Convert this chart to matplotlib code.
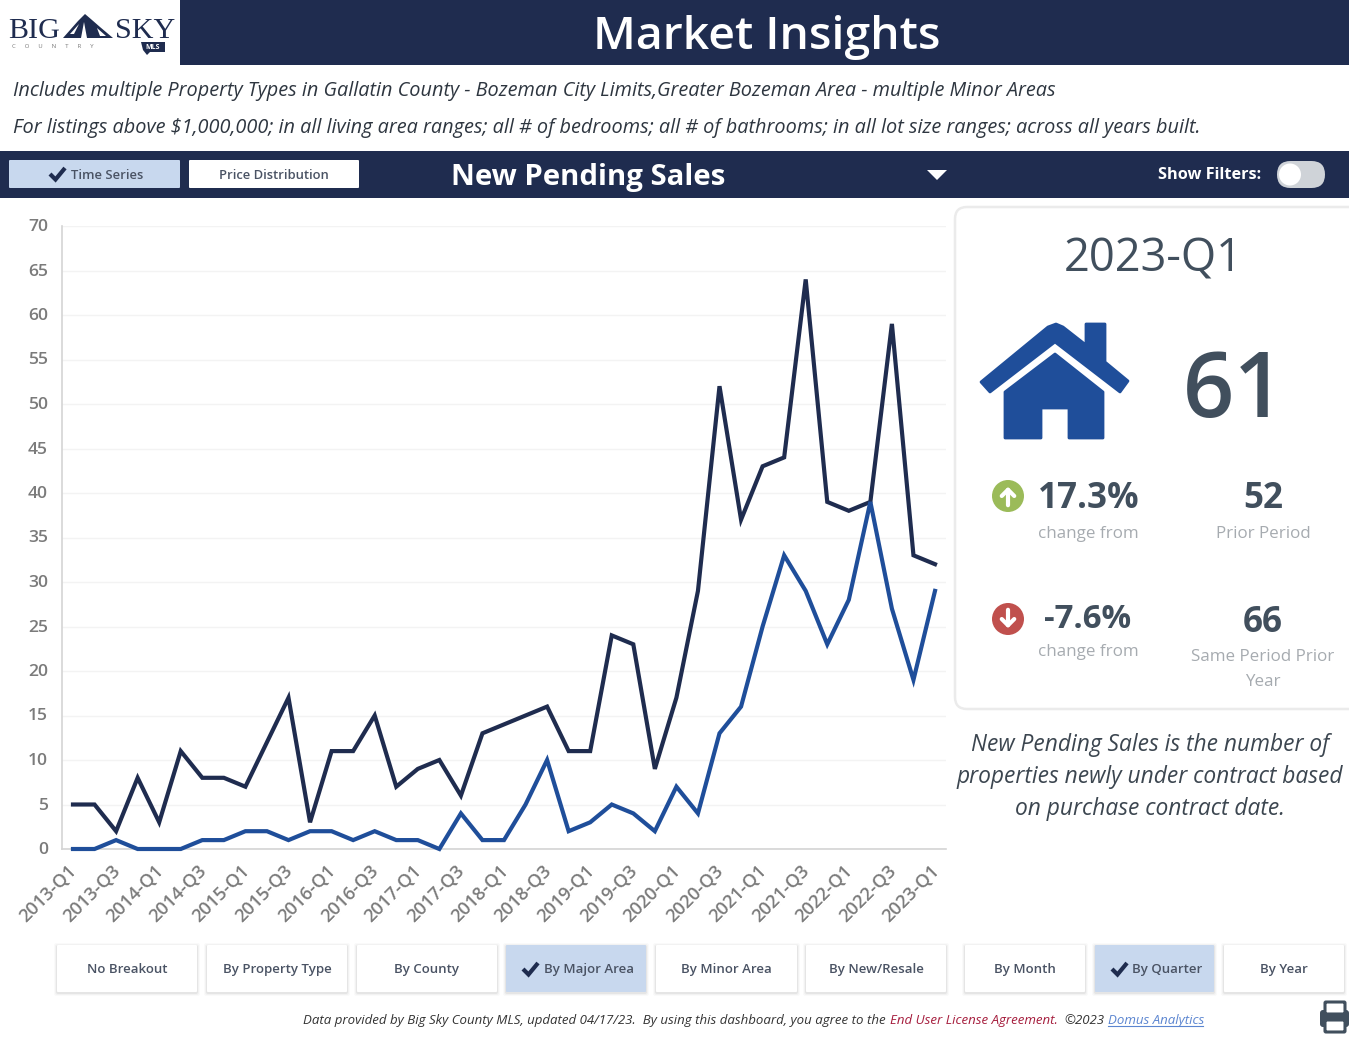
import matplotlib
matplotlib.use('Agg')
import matplotlib.pyplot as plt
from matplotlib.patches import FancyBboxPatch, Circle, Polygon, Rectangle
from matplotlib.transforms import ScaledTranslation

plt.rcParams['font.family'] = ['Open Sans', 'DejaVu Sans']

NAVY = '#1f2c4f'
BLUE = '#1f4e9a'
SLATE = '#414f5d'
GREY_TXT = '#a6abb0'
BTN_ON = '#c8d8ee'
BTN_TXT = '#4a5364'

quarters = []
for y in range(2013, 2024):
    for q in range(1, 5):
        quarters.append('%d-Q%d' % (y, q))
quarters = quarters[:41]

all_areas = [5, 5, 2, 8, 3, 11, 8, 8, 7, 12, 17, 3, 11, 11, 15, 7, 9, 10, 6, 13, 14,
             15, 16, 11, 11, 24, 23, 9, 17, 29, 52, 37, 43, 44, 64, 39, 38, 39, 59, 33, 32]
major_area = [0, 0, 1, 0, 0, 0, 1, 1, 2, 2, 1, 2, 2, 1, 2, 1, 1, 0, 4, 1, 1,
              5, 10, 2, 3, 5, 4, 2, 7, 4, 13, 16, 25, 33, 29, 23, 28, 39, 27, 19, 29]

breakout_buttons = [('No Breakout', 57, 197, False), ('By Property Type', 207, 347, False),
                    ('By County', 357, 497, False), ('By Major Area', 506, 646, True),
                    ('By Minor Area', 656, 797, False), ('By New/Resale', 806, 946, False),
                    ('By Month', 965, 1085, False), ('By Quarter', 1095, 1214, True),
                    ('By Year', 1224, 1344, False)]

W, H = 1349, 1040
fig = plt.figure(figsize=(W / 100, H / 100), dpi=100, facecolor='white')

# page furniture is laid out in pixels
page = fig.add_axes([0, 0, 1, 1])
page.set_xlim(0, W)
page.set_ylim(H, 0)
page.axis('off')


def px(size):
    return size * 0.72


def label(x, y, s, size, color=SLATE, ha='center', va='center', **kw):
    # open sans sits a bit high with va=center
    return page.text(x, y + size * 0.1, s, fontsize=px(size), color=color, ha=ha, va=va, **kw)


def rrect(x0, y0, x1, y1, r, fc, ec='none', lw=0, z=2, alpha=None):
    p = FancyBboxPatch((x0 + r, y0 + r), x1 - x0 - 2 * r, y1 - y0 - 2 * r,
                       boxstyle='round,pad=%f,rounding_size=%f' % (r, r),
                       fc=fc, ec=ec, lw=lw, zorder=z, alpha=alpha)
    page.add_patch(p)
    return p


def check(x, y, color=NAVY):
    # tick mark, x and y is the left end of the stroke
    page.plot([x, x + 5.5, x + 15], [y, y + 5.5, y - 6], color=color, lw=3,
              solid_capstyle='butt', solid_joinstyle='miter', zorder=5)


# top banner
page.add_patch(Rectangle((180, 0), W - 180, 65, fc=NAVY, ec='none'))
label(767, 33, 'Market Insights', 46.4, 'white', fontweight='semibold')

# logo
label(8, 28, 'BIG', 30, NAVY, ha='left', family=['Liberation Serif'])
label(115, 28, 'SKY', 30, NAVY, ha='left', family=['Liberation Serif'])
page.add_patch(Polygon([[63, 38], [78, 21], [85, 14], [92, 20], [100, 27], [113, 38]], fc=NAVY, ec='none'))
page.add_patch(Polygon([[84, 22], [87, 38], [81, 38]], fc='white', ec='none'))
page.add_patch(Polygon([[70, 34], [79, 24], [74, 34]], fc='white', ec='none'))
page.add_patch(Polygon([[97, 28], [106, 36], [100, 36]], fc='white', ec='none'))
label(12, 46, 'C      O      U      N      T      R      Y', 6, '#777777', ha='left')
page.add_patch(Polygon([[141, 42], [165, 42], [165, 52], [150, 52], [147, 55], [143, 50]], fc=NAVY, ec='none'))
label(153, 46.5, 'MLS', 7, 'white', fontweight='bold')

# filter description
label(13, 89, 'Includes multiple Property Types in Gallatin County - Bozeman City Limits,'
      'Greater Bozeman Area - multiple Minor Areas', 19.88, '#2e3640', ha='left', style='italic')
label(13, 126, 'For listings above $1,000,000; in all living area ranges; all # of bedrooms; '
      'all # of bathrooms; in all lot size ranges; across all years built.', 19.85, '#2e3640',
      ha='left', style='italic')

# metric bar
page.add_patch(Rectangle((0, 151), W, 47, fc=NAVY, ec='none'))
rrect(9, 160, 180, 188, 1, BTN_ON)
rrect(189, 160, 359, 188, 1, 'white')
check(50, 174)
label(107, 174, 'Time Series', 13, BTN_TXT, fontweight='semibold')
label(274, 174, 'Price Distribution', 13, BTN_TXT, fontweight='semibold')
label(451, 175, 'New Pending Sales', 29.4, 'white', ha='left', fontweight='bold')
page.add_patch(Polygon([[927, 170], [947, 170], [937, 180]], fc='white', ec='none'))
label(1158, 173, 'Show Filters:', 16.3, 'white', ha='left', fontweight='bold')
rrect(1277, 161, 1325, 188, 13.5, '#cfd3d8')
page.add_patch(Circle((1290, 174.5), 11, fc='white', ec='none', zorder=3))

# chart
ax = fig.add_axes([62 / W, 1 - 849 / H, (946 - 62) / W, (849 - 226) / H])
ax.patch.set_alpha(0)
x = range(len(quarters))
ax.plot(x, all_areas, color=NAVY, lw=3, solid_joinstyle='miter', zorder=3)
ax.plot(x, major_area, color=BLUE, lw=3, solid_joinstyle='miter', zorder=4, clip_on=False)
ax.set_xlim(-0.51, 40.51)
ax.set_ylim(0, 70)
ax.set_yticks(range(0, 71, 5))
ax.set_xticks(range(0, 41, 2))
ax.set_xticklabels(quarters[::2], rotation=45, ha='right', rotation_mode='anchor')
ax.tick_params(axis='both', length=0, labelcolor='#7b7b7b', labelsize=px(18.3))
ax.tick_params(axis='y', pad=10)
ax.tick_params(axis='x', pad=9)
up_one = ScaledTranslation(0, 1 / 100, fig.dpi_scale_trans)
for tick_text in ax.get_yticklabels():
    tick_text.set_fontweight('semibold')
    tick_text.set_fontsize(px(17.5))
    tick_text.set_transform(tick_text.get_transform() + up_one)
shift = ScaledTranslation(-5 / 100, 0, fig.dpi_scale_trans)
for tick_text in ax.get_xticklabels():
    tick_text.set_fontweight('semibold')
    tick_text.set_transform(tick_text.get_transform() + shift)
ax.grid(axis='y', color='#f3f3f3', lw=1)
ax.set_axisbelow(True)
for side in ['top', 'right']:
    ax.spines[side].set_visible(False)
for side in ['left', 'bottom']:
    ax.spines[side].set_color('#d4d4d4')
    ax.spines[side].set_linewidth(1.2)

# summary card
rrect(955, 207, 1375, 709, 12, 'white', ec='#ebebeb', lw=1.8)
label(1153, 255, '2023-Q1', 45.3, SLATE)
label(1234, 384, '61', 90, SLATE, fontweight='semibold')

# house icon
page.add_patch(Polygon([[981, 382], [1048, 327], [1056, 324], [1063, 327], [1086, 345], [1086, 324],
                        [1105, 324], [1105, 362], [1128, 381], [1120, 392], [1055, 342], [990, 392]],
                       fc=BLUE, ec=BLUE, lw=2, joinstyle='round', zorder=3))
page.add_patch(Polygon([[1005, 392], [1055, 354], [1103, 392], [1103, 438], [1069, 438], [1069, 408],
                        [1041, 408], [1041, 438], [1005, 438]], fc=BLUE, ec=BLUE, lw=2, joinstyle='round',
                       zorder=3))

# change figures
page.add_patch(Circle((1008, 496), 16, fc='#9bbb59', ec='none', zorder=3))
page.annotate('', xy=(1008, 484), xytext=(1008, 508), zorder=4,
              arrowprops=dict(arrowstyle='->,head_width=0.45,head_length=0.45', color='white', lw=3))
page.add_patch(Circle((1008, 619), 16, fc='#c0504d', ec='none', zorder=3))
page.annotate('', xy=(1008, 631), xytext=(1008, 607), zorder=4,
              arrowprops=dict(arrowstyle='->,head_width=0.45,head_length=0.45', color='white', lw=3))
label(1089, 496, '17.3%', 35, SLATE, fontweight='bold')
label(1088, 532, 'change from', 17, GREY_TXT)
label(1263, 496, '52', 35, SLATE, fontweight='bold')
label(1263, 532, 'Prior Period', 17, GREY_TXT)
label(1088, 616, '-7.6%', 33, SLATE, fontweight='bold')
label(1088, 650, 'change from', 17, GREY_TXT)
label(1263, 619, '66', 35, SLATE, fontweight='bold')
label(1263, 655, 'Same Period Prior', 17, GREY_TXT)
label(1263, 680, 'Year', 17, GREY_TXT)

# definition under the card
label(1150, 743, 'New Pending Sales is the number of', 22.8, '#3c4650', style='italic')
label(1150, 775, 'properties newly under contract based', 22.8, '#3c4650', style='italic')
label(1150, 807, 'on purchase contract date.', 22.8, '#3c4650', style='italic')

# breakout buttons
for name, x0, x1, active in breakout_buttons:
    # soft shadow
    for grow, a in [(3, 0.02), (2, 0.03), (1, 0.05)]:
        rrect(x0 - grow, 945 - grow + 1, x1 + grow, 992 + grow + 1, 2, '#000000', z=1, alpha=a)
    rrect(x0, 945, x1, 992, 1, BTN_ON if active else 'white', z=2)
    mid = (x0 + x1) / 2
    if active:
        check(x0 + 17, 969)
        label(mid + 13, 968, name, 13.3, BTN_TXT, fontweight='semibold')
    else:
        label(mid, 968, name, 13.3, BTN_TXT, fontweight='semibold')

# footer
label(303, 1019, 'Data provided by Big Sky County MLS, updated 04/17/23.  By using this dashboard, '
      'you agree to the', 13.2, '#333333', ha='left', style='italic')
label(890, 1019, 'End User License Agreement.', 13.2, '#a51c3c', ha='left', style='italic')
label(1064, 1019, '\u00a92023', 13.2, '#333333', ha='left', style='italic')
label(1108, 1019, 'Domus Analytics', 13.2, '#5b85d0', ha='left', style='italic')
page.plot([1108, 1203], [1026, 1026], color='#5b85d0', lw=0.8)

# printer icon
rrect(1320, 1010, 1349, 1027, 3, SLATE)
rrect(1325, 1002, 1345, 1014, 1, 'white', ec=SLATE, lw=2.2, z=3)
rrect(1325, 1020, 1345, 1032, 1, 'white', ec=SLATE, lw=2.2, z=3)

fig.savefig('out.png', dpi=100, facecolor='white')
